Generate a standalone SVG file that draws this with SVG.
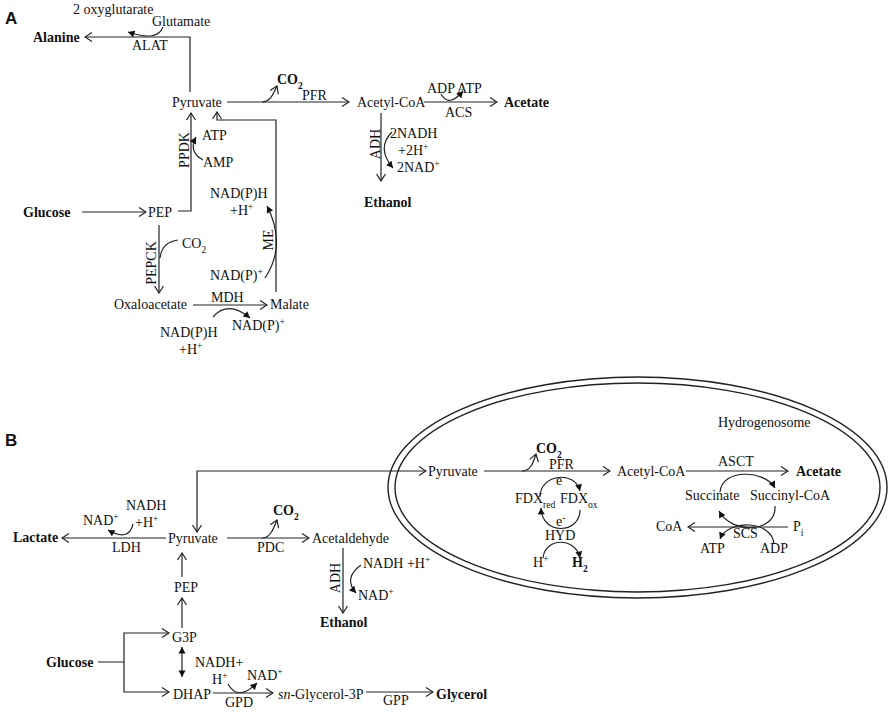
<svg xmlns="http://www.w3.org/2000/svg" width="892" height="712" viewBox="0 0 892 712">
<style>
text{font-family:"Liberation Serif","Times New Roman",serif;font-size:14px;fill:#111}
.b{font-weight:bold}
.p{font-family:"Liberation Sans",Arial,sans-serif;font-weight:bold;font-size:17px}
.s{font-size:9.5px}
.c{fill:none;stroke:#222;stroke-width:1.2}
.o{marker-end:url(#open)}
.f{marker-end:url(#tri)}
.mem{fill:none;stroke:#222;stroke-width:1.4}
</style>
<defs>
<marker id="open" viewBox="-9 -6 10 12" refX="0" refY="0" markerWidth="10" markerHeight="12" markerUnits="userSpaceOnUse" orient="auto-start-reverse"><path d="M-7,-4.5 L0,0 L-7,4.5" fill="none" stroke="#222" stroke-width="1.2"/></marker>
<marker id="tri" viewBox="-7 -4 8 8" refX="0" refY="0" markerWidth="8" markerHeight="8" markerUnits="userSpaceOnUse" orient="auto-start-reverse"><path d="M-6.5,-3.5 L0,0 L-6.5,3.5 Z" fill="#111"/></marker>
</defs>

<text class="p" x="5" y="24">A</text>
<text class="p" x="5" y="446">B</text>

<g id="connectors">
<!-- Panel A -->
<path class="c o" d="M190,92 V37 H85"/>
<path class="c f" d="M163,27 Q158,42 128,32"/>
<path class="c o" d="M227,102 H349"/>
<path class="c o" d="M262,102 C270,102 273,95 277,86"/>
<path class="c o" d="M424,102 H497"/>
<path class="c f" d="M441,94 Q449,108 463,91"/>
<path class="c o" d="M381,113 V181"/>
<path class="c f" d="M392,132 Q376,148 393,168"/>
<path class="c o" d="M178,211 H191 V113"/>
<path class="c f" d="M203,160 Q188,152 196,137"/>
<path class="c o" d="M82,212 H146"/>
<path class="c o" d="M159,225 V293"/>
<path class="c" d="M178,240 Q162,242 160,258"/>
<path class="c o" d="M193,305 H267"/>
<path class="c f" d="M213,317 Q228,300 250,318"/>
<path class="c o" d="M276,292 V120 H217 V112"/>
<path class="c f" d="M265,278 Q287,245 267,206"/>
<!-- Panel B -->
<ellipse class="mem" cx="637.5" cy="487.5" rx="249.5" ry="110.5"/>
<ellipse class="mem" cx="637.5" cy="487.5" rx="242.5" ry="104.5"/>
<path class="c" d="M197,532 V471 H426" marker-start="url(#open)" marker-end="url(#open)"/>
<path class="c o" d="M166,538 H62"/>
<path class="c f" d="M133,524 Q129,542 108,530"/>
<path class="c o" d="M227,538 H309"/>
<path class="c o" d="M262,538 C270,538 273,530 277,520"/>
<path class="c o" d="M343,548 V613"/>
<path class="c f" d="M361,565 Q343,578 356,593"/>
<path class="c o" d="M182,577 V553"/>
<path class="c o" d="M182,628 V598"/>
<path class="c o" d="M98,662 H124 V633 H169"/>
<path class="c o" d="M124,662 V692 H169"/>
<path class="c" d="M182,647 V677" marker-start="url(#tri)" marker-end="url(#tri)"/>
<path class="c o" d="M213,693 H273"/>
<path class="c f" d="M228,684 Q238,702 257,683"/>
<path class="c o" d="M366,692 H433"/>
<path class="c o" d="M484,471 H610"/>
<path class="c o" d="M522,471 C530,471 533,464 536,454"/>
<path class="c f" d="M540,497 C540,474 575,470 580,491"/>
<path class="c f" d="M580,510 C580,534 542,536 541,508"/>
<path class="c f" d="M543,558 C545,537 576,537 580,558"/>
<path class="c o" d="M686,471 H788"/>
<path class="c f" d="M720,492 C722,468 765,470 775,488"/>
<path class="c f" d="M775,506 C777,532 733,536 719,511"/>
<path class="c o" d="M788,527 H688"/>
<path class="c f" d="M774,544 C772,520 728,519 720,539"/>
</g>

<g id="A-alanine"><text class="b" x="33" y="42">Alanine</text></g>
<g id="A-pyruvate"><text x="172" y="107">Pyruvate</text></g>
<g id="A-co2"><text class="b" x="277" y="84">CO<tspan class="s" baseline-shift="sub">2</tspan></text></g>
<g id="A-acetylcoa"><text x="357" y="107">Acetyl-CoA</text></g>
<g id="A-acetate"><text class="b" x="504" y="107">Acetate</text></g>
<g id="A-ethanol"><text class="b" x="364" y="207">Ethanol</text></g>
<g id="A-glucose"><text class="b" x="23" y="217">Glucose</text></g>
<g id="A-pep"><text x="148" y="217">PEP</text></g>
<g id="A-oxaloacetate"><text x="114" y="309">Oxaloacetate</text></g>
<g id="A-malate"><text x="270" y="309">Malate</text></g>

<g id="A-labels">
<text x="73" y="14">2 oxyglutarate</text>
<text x="152" y="26">Glutamate</text>
<text x="132" y="50">ALAT</text>
<text x="302" y="100">PFR</text>
<text x="427" y="93">ADP</text>
<text x="457" y="93">ATP</text>
<text x="445" y="117">ACS</text>
<text x="380" y="144" text-anchor="middle" transform="rotate(-90 380 144)">ADH</text>
<text x="390" y="138">2NADH</text>
<text x="398" y="155">+2H<tspan class="s" baseline-shift="super">+</tspan></text>
<text x="397" y="172">2NAD<tspan class="s" baseline-shift="super">+</tspan></text>
<text x="189" y="150" text-anchor="middle" transform="rotate(-90 189 150)">PPDK</text>
<text x="202" y="140">ATP</text>
<text x="203" y="167">AMP</text>
<text x="210" y="198">NAD(P)H</text>
<text x="230" y="215">+H<tspan class="s" baseline-shift="super">+</tspan></text>
<text x="273" y="240" text-anchor="middle" transform="rotate(-90 273 240)">ME</text>
<text x="210" y="280">NAD(P)<tspan class="s" baseline-shift="super">+</tspan></text>
<text x="156" y="263" text-anchor="middle" transform="rotate(-90 156 263)">PEPCK</text>
<text x="182" y="248">CO<tspan class="s" baseline-shift="sub">2</tspan></text>
<text x="211" y="302">MDH</text>
<text x="160" y="337">NAD(P)H</text>
<text x="179" y="354">+H<tspan class="s" baseline-shift="super">+</tspan></text>
<text x="232" y="330">NAD(P)<tspan class="s" baseline-shift="super">+</tspan></text>
</g>

<g id="B-pyruvate"><text x="168" y="543">Pyruvate</text></g>
<g id="B-lactate"><text class="b" x="13" y="542">Lactate</text></g>
<g id="B-co2"><text class="b" x="273" y="515">CO<tspan class="s" baseline-shift="sub">2</tspan></text></g>
<g id="B-acetaldehyde"><text x="312" y="543">Acetaldehyde</text></g>
<g id="B-ethanol"><text class="b" x="320" y="627">Ethanol</text></g>
<g id="B-pep"><text x="174" y="592">PEP</text></g>
<g id="B-g3p"><text x="172" y="642">G3P</text></g>
<g id="B-glucose"><text class="b" x="46" y="667">Glucose</text></g>
<g id="B-dhap"><text x="173" y="699">DHAP</text></g>
<g id="B-glycerol3p"><text x="278" y="699"><tspan font-style="italic">sn</tspan>-Glycerol-3P</text></g>
<g id="B-glycerol"><text class="b" x="436" y="699">Glycerol</text></g>
<g id="hydrogenosome"><text x="718" y="427">Hydrogenosome</text></g>
<g id="H-pyruvate"><text x="428" y="476">Pyruvate</text></g>
<g id="H-co2"><text class="b" x="536" y="453">CO<tspan class="s" baseline-shift="sub">2</tspan></text></g>
<g id="H-acetylcoa"><text x="617" y="476">Acetyl-CoA</text></g>
<g id="H-fdxred"><text x="515" y="503">FDX<tspan class="s" baseline-shift="sub">red</tspan></text></g>
<g id="H-fdxox"><text x="560" y="503">FDX<tspan class="s" baseline-shift="sub">ox</tspan></text></g>
<g id="H-h2"><text class="b" x="572" y="567">H<tspan class="s" baseline-shift="sub">2</tspan></text></g>
<g id="H-acetate"><text class="b" x="796" y="476">Acetate</text></g>
<g id="H-succinate"><text x="685" y="500">Succinate</text></g>
<g id="H-succinylcoa"><text x="750" y="500">Succinyl-CoA</text></g>
<g id="H-coa"><text x="656" y="531">CoA</text></g>

<g id="B-labels">
<text x="112" y="552">LDH</text>
<text x="83" y="525">NAD<tspan class="s" baseline-shift="super">+</tspan></text>
<text x="126" y="510">NADH</text>
<text x="135" y="527">+H<tspan class="s" baseline-shift="super">+</tspan></text>
<text x="257" y="552">PDC</text>
<text x="340" y="578" text-anchor="middle" transform="rotate(-90 340 578)">ADH</text>
<text x="363" y="568">NADH +H<tspan class="s" baseline-shift="super">+</tspan></text>
<text x="358" y="600">NAD<tspan class="s" baseline-shift="super">+</tspan></text>
<text x="195" y="667">NADH+</text>
<text x="212" y="684">H<tspan class="s" baseline-shift="super">+</tspan></text>
<text x="247" y="680">NAD<tspan class="s" baseline-shift="super">+</tspan></text>
<text x="225" y="707">GPD</text>
<text x="383" y="705">GPP</text>
<text x="549" y="469">PFR</text>
<text x="556" y="485">e<tspan class="s" baseline-shift="super">-</tspan></text>
<text x="556" y="526">e<tspan class="s" baseline-shift="super">-</tspan></text>
<text x="545" y="540">HYD</text>
<text x="533" y="567">H<tspan class="s" baseline-shift="super">+</tspan></text>
<text x="718" y="466">ASCT</text>
<text x="793" y="531">P<tspan class="s" baseline-shift="sub">i</tspan></text>
<text x="733" y="538">SCS</text>
<text x="700" y="553">ATP</text>
<text x="760" y="553">ADP</text>
</g>
</svg>
